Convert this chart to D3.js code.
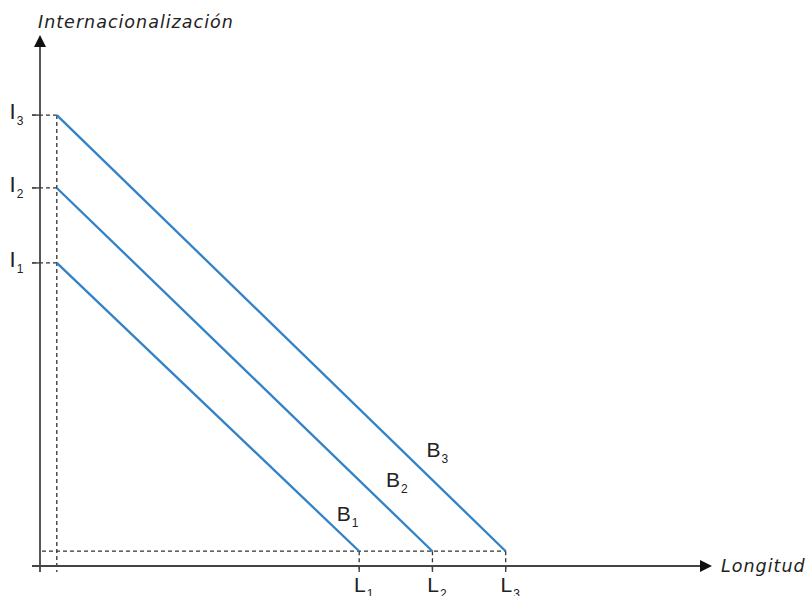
<!DOCTYPE html>
<html>
<head>
<meta charset="utf-8">
<script src="https://cdn.jsdelivr.net/npm/d3@7"></script>
<style>
  body { margin: 0; background: #fff; }
  text { font-family: "Liberation Sans", Arial, sans-serif; fill: #222; }
  .title { font-family: "DejaVu Sans", sans-serif; font-style: italic; font-size: 17.5px; letter-spacing: 1px; }
</style>
</head>
<body>
<svg width="810" height="596"></svg>
<script>
var svg = d3.select("svg");

// data (arbitrary units)
var lineNames = ["B1", "B2", "B3"];
var startX = 2.5;                 // where the lines begin (dashed vertical)
var baseY = 2.8;                  // where the lines end (dashed horizontal)
var intercepts = [57.4, 71.6, 85.4];   // I1, I2, I3
var lengths = [47.5, 58.4, 69.3];      // L1, L2, L3
var yTickNames = ["I1", "I2", "I3"];
var xTickNames = ["L1", "L2", "L3"];
var labelPos = [[44.15, 8.5], [51.5, 15.0], [57.5, 20.7]]; // B labels

var x = d3.scaleLinear().domain([0, 100]).range([40, 712]);
var y = d3.scaleLinear().domain([0, 100]).range([566, 38]);

var axisColor = "#444", dashColor = "#333", blue = "#3282c8";

// dashed guides
function dashed(x1, y1, x2, y2) {
    svg.append("line")
        .attr("x1", x1).attr("y1", y1).attr("x2", x2).attr("y2", y2)
        .style("stroke", dashColor)
        .style("stroke-width", "1.3px")
        .style("stroke-dasharray", "4,3");
}
dashed(x(startX), y(intercepts[2]), x(startX), y(0) + 6);
dashed(x(0) + 2, y(baseY), x(lengths[2]), y(baseY));
intercepts.forEach(function(v) { dashed(x(0) - 8, y(v), x(startX), y(v)); });
lengths.forEach(function(v) { dashed(x(v), y(baseY), x(v), y(0) + 6); });

// axes
svg.append("line")
    .attr("x1", x(0)).attr("y1", y(0) + 6).attr("x2", x(0)).attr("y2", y(100) + 8)
    .style("stroke", axisColor).style("stroke-width", "1.8px");
svg.append("line")
    .attr("x1", x(0) - 8).attr("y1", y(0)).attr("x2", x(100) - 8).attr("y2", y(0))
    .style("stroke", axisColor).style("stroke-width", "1.8px");
svg.append("path")
    .attr("d", "M" + x(0) + "," + (y(100) - 3) + " L" + (x(0) - 6) + "," + (y(100) + 9) + " L" + (x(0) + 6) + "," + (y(100) + 9) + " Z")
    .style("fill", "#111");
svg.append("path")
    .attr("d", "M" + x(100) + "," + y(0) + " L" + (x(100) - 12) + "," + (y(0) - 6) + " L" + (x(100) - 12) + "," + (y(0) + 6) + " Z")
    .style("fill", "#111");
// small solid ticks on the axes
intercepts.forEach(function(v) {
    svg.append("line").attr("x1", x(0) - 8).attr("x2", x(0)).attr("y1", y(v)).attr("y2", y(v))
        .style("stroke", axisColor).style("stroke-width", "1.4px");
});
lengths.forEach(function(v) {
    svg.append("line").attr("x1", x(v)).attr("x2", x(v)).attr("y1", y(0)).attr("y2", y(0) + 6)
        .style("stroke", axisColor).style("stroke-width", "1.4px");
});

// budget lines
svg.selectAll(".budget")
    .data(lineNames)
    .enter().append("line")
    .attr("class", "budget")
    .attr("x1", x(startX))
    .attr("y1", function(d, i) { return y(intercepts[i]); })
    .attr("x2", function(d, i) { return x(lengths[i]); })
    .attr("y2", y(baseY))
    .style("stroke", blue)
    .style("stroke-width", "2.3px");

// labels with subscripts
function subLabel(px, py, name, size) {
    var t = svg.append("text").attr("x", px).attr("y", py).style("font-size", size + "px");
    t.append("tspan").text(name.charAt(0));
    t.append("tspan").attr("dy", 6).attr("dx", 1).style("font-size", "12px").text(name.slice(1));
}
lineNames.forEach(function(n, i) { subLabel(x(labelPos[i][0]), y(labelPos[i][1]), n, 21); });
yTickNames.forEach(function(n, i) { subLabel(9.5, y(intercepts[i]) + 4, n, 22); });
xTickNames.forEach(function(n, i) { subLabel(x(lengths[i]) - 5.2, y(0) + 25.7, n, 21); });

// axis titles
svg.append("text").attr("class", "title").attr("x", 38).attr("y", 28)
    .text("Internacionalización");
svg.append("text").attr("class", "title").attr("x", 721).attr("y", y(0) + 5.5)
    .text("Longitud");
</script>
</body>
</html>
